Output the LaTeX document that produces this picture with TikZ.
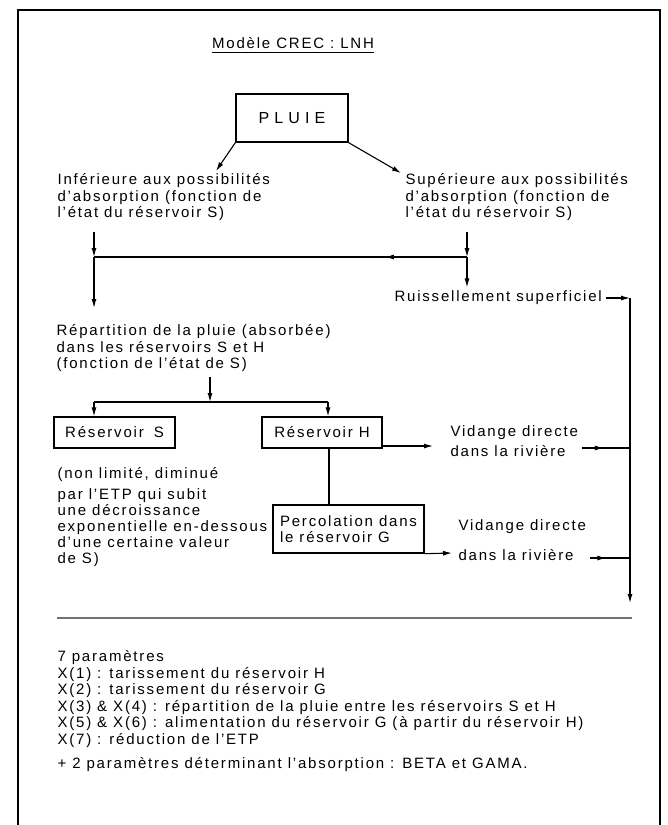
\documentclass[tikz,border=0pt]{standalone}
\usepackage{fontspec}
\setmainfont{Liberation Sans}[LetterSpace=12]
\usetikzlibrary{arrows.meta,calc,decorations.markings}

\begin{document}
\begin{tikzpicture}[x=1pt,y=-1pt,line width=1.1pt,
  texte/.style={align=left,inner sep=0pt,font=\fontsize{15}{16.5}\selectfont},
  boite/.style={draw,line width=1.4pt,inner sep=0pt,font=\fontsize{15}{16.5}\selectfont},
  fleche/.style={-{Latex[length=9pt,width=5pt]}},
  milieu/.style={postaction={decorate},decoration={markings,
    mark=at position #1 with {\arrow{Latex[length=9pt,width=5pt]}}}}]

\useasboundingbox (0,0) rectangle (668,825);
\draw[line width=1.5pt] (18,825) -- (18,10) -- (660,10) -- (660,825);

\node[texte,anchor=base] (titre) at (293,48) {Modèle CREC : LNH};
\draw ([yshift=-4pt]titre.south west) -- ([yshift=-4pt]titre.south east);

\node[boite,minimum width=112pt,minimum height=48pt] (pluie) at (292,118)
  {\addfontfeature{LetterSpace=32}\fontsize{16}{16}\selectfont PLUIE};

\node[texte,anchor=north west] (inf) at (57,173)
  {Inférieure aux possibilités\\d'absorption (fonction de\\l'état du réservoir S)};
\node[texte,anchor=north west] (sup) at (405,173)
  {Supérieure aux possibilités\\d'absorption (fonction de\\l'état du réservoir S)};
\node[texte,anchor=west] (ruis) at (394,298) {Ruissellement superficiel};
\node[texte,anchor=north west] (rep) at (56,324)
  {Répartition de la pluie (absorbée)\\dans les réservoirs S et H\\(fonction de l'état de S)};

\node[boite,minimum width=121pt,minimum height=31pt] (resS) at (114.5,432.5) {Réservoir\hspace{4pt} S};
\node[boite,minimum width=120pt,minimum height=31pt] (resH) at (322,432.5) {Réservoir H};
\node[boite,minimum width=151pt,minimum height=48pt,align=left] (perc) at (348.5,529)
  {Percolation dans\\le réservoir G};

\node[texte,anchor=north west,font=\fontsize{15}{16}\selectfont] (etp) at (57,467)
  {(non limité, diminué\\[5pt]par l'ETP qui subit\\une décroissance\\exponentielle en-dessous\\d'une certaine valeur\\de S)};
\node[texte,anchor=north west,font=\fontsize{15}{20}\selectfont] (vida) at (450,425)
  {Vidange directe\\dans la rivière};
\node[texte,anchor=north west] (vidb) at (458,519)
  {Vidange directe\\[14pt]dans la rivière};

\coordinate (ai) at (216,171);
\coordinate (as) at (401,173);
\coordinate (di) at (94,232);
\coordinate (ds) at (467,232);
\coordinate (jg) at (94,257);
\coordinate (jd) at (467,257);
\coordinate (coin) at (630,298);
\coordinate (sortie) at (630,603);
\coordinate (dr) at (210,377);
\coordinate (jr) at (210,402);
\coordinate (rs) at (94,402);
\coordinate (rh) at (328,402);
\coordinate (hp) at (329,448);
\coordinate (vha) at (433,446);
\coordinate (vhb) at (452,553);
\coordinate (va) at (630,448);
\coordinate (vb) at (630,558);

\draw[fleche] (pluie.south west) -- (ai);
\draw[fleche] (pluie.south east) -- (as);
\draw[fleche] (di) -- (jg);
\draw[fleche] (ds) -- (jd);
\draw[milieu=0.22] (jd) -- (jg);
\draw[fleche] (jd) -- ($(ruis.north -| jd)+(0,-3)$);
\draw[fleche] (jg) -- ($(rep.north -| jg)+(0,-16)$);
\draw[fleche] ([xshift=4pt]ruis.east) -- (coin);
\draw[fleche] (coin) -- (sortie);
\draw[fleche] (dr) -- (jr);
\draw (rs) -- (rh);
\draw[fleche] (rs) -- (rs |- resS.north);
\draw[fleche] (rh) -- (rh |- resH.north);
\draw (hp) -- (hp |- perc.north);
\draw[fleche] (resH.south east |- vha) -- (vha);
\draw[fleche] (perc.south east) -- (vhb);
\draw[milieu=0.45] ([xshift=4pt]vida.east |- va) -- (va);
\draw[milieu=0.4] ([xshift=4pt]vidb.east |- vb) -- (vb);

\draw[line width=1.8pt,black!55] (57,618) -- (632,618);

\node[texte,anchor=north west] (param) at (57,650)
  {7 paramètres\\X(1) : tarissement du réservoir H\\X(2) : tarissement du réservoir G\\X(3) \& X(4) : répartition de la pluie entre les réservoirs S et H\\X(5) \& X(6) : alimentation du réservoir G (à partir du réservoir H)\\X(7) : réduction de l'ETP\\[8pt]+ 2 paramètres déterminant l'absorption : BETA et GAMA.};

\end{tikzpicture}
\end{document}
